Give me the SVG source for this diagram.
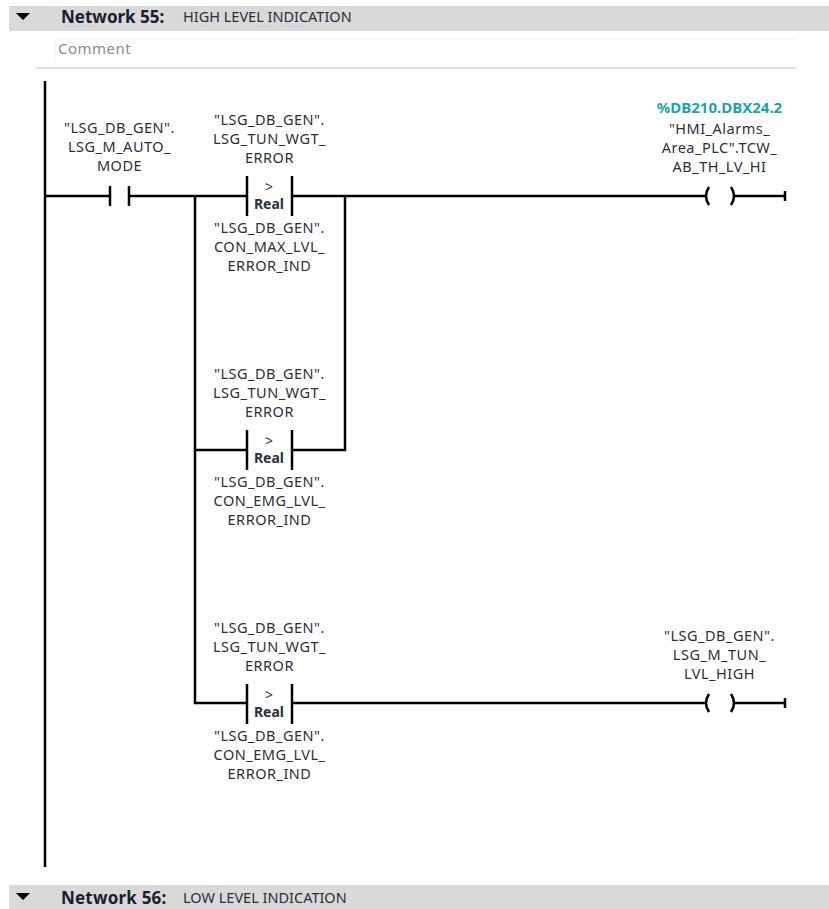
<svg xmlns="http://www.w3.org/2000/svg" width="829" height="909" viewBox="0 0 829 909">
<defs>
<style>
text{font-family:"Noto Sans","Open Sans","Liberation Sans",sans-serif;font-size:14.5px;letter-spacing:.5px;fill:#2c3038;text-anchor:middle}
.w{fill:none;stroke:#000;stroke-width:2.5}
.h{font-size:17px;font-weight:700;letter-spacing:0;text-anchor:start;fill:#18202c}
.t{font-size:14.5px;letter-spacing:0;text-anchor:start;fill:#2a2e3a}
.r{font-weight:700;font-size:14px;letter-spacing:0}
.g{font-size:14px;letter-spacing:0}
.a{fill:#1aa5a8;font-weight:700;font-size:15px;letter-spacing:0}
</style>
<g id="cmp">
<path class="w" d="M0 -20V20M45 -20V20"/>
<text x="22" y="-4" class="g">&gt;</text>
<text x="22" y="12.500" class="r">Real</text>
</g>
</defs>
<rect x="9" y="6" width="820" height="25" fill="#d9d9d9"/>
<rect x="9" y="885" width="820" height="24" fill="#d9d9d9"/>
<path d="M16 13H30L23 20Z M16 893H30L23 900Z" fill="#000"/>
<text class="h" x="61" y="23">Network 55:</text>
<text class="t" x="183" y="22">HIGH LEVEL INDICATION</text>
<text class="h" x="61" y="904" style="letter-spacing:.2px">Network 56:</text>
<text class="t" x="183" y="903">LOW LEVEL INDICATION</text>
<path d="M55 39H797M55 39V63" fill="none" stroke="#f0f0f0"/>
<text x="58" y="54" style="text-anchor:start;fill:#8a8a8a;font-size:15px">Comment</text>
<path d="M36 68H796" stroke="#d3dae8" stroke-width="1.500"/>
<g id="connectors">
<path class="w" d="M45 81V867"/>
<path class="w" d="M45 196H110M129 196H247M292 196H705M735 196H785"/>
<path class="w" d="M195 196V703H247M292 703H705M735 703H785"/>
<path class="w" d="M195 450H247M292 450H345V196"/>
<path class="w" d="M785 191V201M785 698V708"/>
</g>
<g id="n1">
<path class="w" d="M110 186V206M129 186V206"/>
<text x="119.500" y="133">"LSG_DB_GEN".</text><text x="119.500" y="152">LSG_M_AUTO_</text><text x="119.500" y="171">MODE</text>
</g>
<g id="n2">
<use href="#cmp" x="247" y="196"/>
<text x="269.500" y="125">"LSG_DB_GEN".</text><text x="269.500" y="144">LSG_TUN_WGT_</text><text x="269.500" y="163">ERROR</text>
<text x="269.500" y="233">"LSG_DB_GEN".</text><text x="269.500" y="252">CON_MAX_LVL_</text><text x="269.500" y="271">ERROR_IND</text>
</g>
<g id="n3">
<use href="#cmp" x="247" y="450"/>
<text x="269.500" y="379">"LSG_DB_GEN".</text><text x="269.500" y="398">LSG_TUN_WGT_</text><text x="269.500" y="417">ERROR</text>
<text x="269.500" y="487">"LSG_DB_GEN".</text><text x="269.500" y="506">CON_EMG_LVL_</text><text x="269.500" y="525">ERROR_IND</text>
</g>
<g id="n4">
<use href="#cmp" x="247" y="704"/>
<text x="269.500" y="633">"LSG_DB_GEN".</text><text x="269.500" y="652">LSG_TUN_WGT_</text><text x="269.500" y="671">ERROR</text>
<text x="269.500" y="741">"LSG_DB_GEN".</text><text x="269.500" y="760">CON_EMG_LVL_</text><text x="269.500" y="779">ERROR_IND</text>
</g>
<g id="n5">
<path class="w" d="M709 187Q703 196 709 205M731 187Q737 196 731 205"/>
<text x="719.500" y="113" class="a">%DB210.DBX24.2</text>
<text x="719.500" y="134">"HMI_Alarms_</text><text x="719.500" y="153">Area_PLC".TCW_</text><text x="719.500" y="172">AB_TH_LV_HI</text>
</g>
<g id="n6">
<path class="w" d="M709 694Q703 703 709 712M731 694Q737 703 731 712"/>
<text x="719.500" y="641">"LSG_DB_GEN".</text><text x="719.500" y="660">LSG_M_TUN_</text><text x="719.500" y="679">LVL_HIGH</text>
</g>
</svg>
